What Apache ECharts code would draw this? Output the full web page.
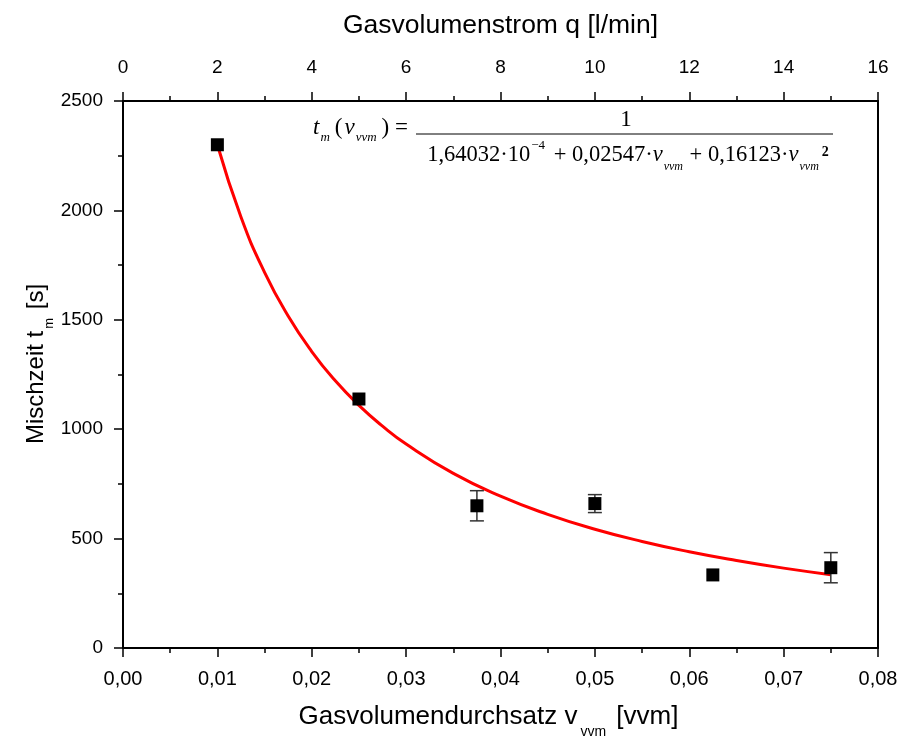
<!DOCTYPE html>
<html>
<head>
<meta charset="utf-8">
<script src="https://cdn.jsdelivr.net/npm/echarts@6/dist/echarts.min.js"></script>
<style>
  html, body { margin: 0; padding: 0; background: #fff; }
  #chart { width: 898px; height: 738px; }
</style>
</head>
<body>
<div id="chart"></div>
<script>
// Messpunkte (Mischzeit ueber Begasungsrate)
const vvmPoints = [0.01, 0.025, 0.0375, 0.05, 0.0625, 0.075];
const tmPoints = [2300, 1138, 650, 660, 334, 367];
const tmErrors = [0, 0, 69, 41, 0, 69];

// Ausgleichskurve
const fitVvm = [0.01, 0.0125, 0.015, 0.0175, 0.02, 0.0225, 0.025, 0.0275, 0.03, 0.035,
  0.04, 0.045, 0.05, 0.055, 0.06, 0.065, 0.07, 0.075];
const fitTm = [2300, 1970, 1717, 1517, 1355, 1221, 1109, 1014, 932, 798,
  694, 611, 543, 487, 440, 400, 365, 335];

// Achsenbeschriftung
const bottomTicks = ["0,00", "0,01", "0,02", "0,03", "0,04", "0,05", "0,06", "0,07", "0,08"];

const chart = echarts.init(document.getElementById("chart"));

const sans = "'Liberation Sans', Arial, Helvetica, sans-serif";
const serif = "'Liberation Serif', 'Times New Roman', serif";

const pointData = vvmPoints.map((v, i) => [v, tmPoints[i]]);
const errData = vvmPoints
  .map((v, i) => [v, tmPoints[i], tmErrors[i]])
  .filter((d) => d[2] > 0);
const fitData = fitVvm.map((v, i) => [v, fitTm[i]]);

// Fehlerbalken
function renderErrorBar(params, api) {
  const x = api.value(0);
  const y = api.value(1);
  const e = api.value(2);
  const top = api.coord([x, y + e]);
  const bot = api.coord([x, y - e]);
  const half = 7;
  const style = { stroke: "#333", lineWidth: 1.5 };
  return {
    type: "group",
    children: [
      { type: "line", shape: { x1: top[0], y1: top[1], x2: bot[0], y2: bot[1] }, style },
      { type: "line", shape: { x1: top[0] - half, y1: top[1], x2: top[0] + half, y2: top[1] }, style },
      { type: "line", shape: { x1: bot[0] - half, y1: bot[1], x2: bot[0] + half, y2: bot[1] }, style },
    ],
  };
}

const axisLine = { show: true, onZero: false, lineStyle: { color: "#000", width: 2 } };
const tick = { show: true, inside: false, length: 9, lineStyle: { color: "#000", width: 1.5 } };
const minor = { show: true, splitNumber: 2, length: 5, lineStyle: { color: "#000", width: 1.5 } };

const option = {
  backgroundColor: "#fff",
  animation: false,
  grid: { left: 123, right: 20, top: 101, bottom: 90, containLabel: false, outerBoundsMode: "none" },
  xAxis: [
    {
      type: "value",
      position: "bottom",
      min: 0,
      max: 0.08,
      interval: 0.01,
      axisLine: axisLine,
      axisTick: tick,
      minorTick: minor,
      splitLine: { show: false },
      axisLabel: {
        margin: 21,
        fontFamily: sans,
        fontSize: 20,
        color: "#000",
        formatter: (val) => bottomTicks[Math.round(val * 100)],
      },
      name: "{a|Gasvolumendurchsatz v}{s|vvm}{a| [vvm]}",
      nameLocation: "middle",
      nameGap: 50,
      nameTextStyle: {
        padding: [0, 24, 0, 0],
        rich: {
          a: { fontFamily: sans, fontSize: 26, color: "#000", lineHeight: 32, verticalAlign: "bottom" },
          s: { fontFamily: sans, fontSize: 14, color: "#000", lineHeight: 16, verticalAlign: "bottom", padding: [0, 3, -9, 3] },
        },
      },
    },
    {
      type: "value",
      position: "top",
      min: 0,
      max: 16,
      interval: 2,
      axisLine: axisLine,
      axisTick: tick,
      minorTick: minor,
      splitLine: { show: false },
      axisLabel: { margin: 24, fontFamily: sans, fontSize: 19, color: "#000" },
      name: "Gasvolumenstrom q [l/min]",
      nameLocation: "middle",
      nameGap: 62,
      nameTextStyle: { fontFamily: sans, fontSize: 26.5, color: "#000" },
    },
  ],
  yAxis: [
    {
      type: "value",
      min: 0,
      max: 2500,
      interval: 500,
      axisLine: axisLine,
      axisTick: tick,
      minorTick: minor,
      splitLine: { show: false },
      axisLabel: { margin: 20, fontFamily: sans, fontSize: 19, color: "#000", formatter: (val) => String(val) },
    },
    {
      type: "value",
      position: "right",
      min: 0,
      max: 2500,
      axisLine: axisLine,
      axisTick: { show: false },
      axisLabel: { show: false },
      splitLine: { show: false },
    },
  ],
  series: [
    {
      name: "Fit",
      type: "line",
      data: fitData,
      smooth: true,
      showSymbol: false,
      lineStyle: { color: "#f00", width: 3 },
      z: 2,
    },
    {
      name: "Fehler",
      type: "custom",
      data: errData,
      renderItem: renderErrorBar,
      z: 3,
    },
    {
      name: "Messung",
      type: "scatter",
      data: pointData,
      symbol: "rect",
      symbolSize: 13,
      itemStyle: { color: "#000", opacity: 1 },
      z: 4,
    },
  ],
  graphic: [
    // y-Achsentitel
    {
      type: "text",
      x: 33,
      y: 364,
      rotation: Math.PI / 2,
      style: {
        text: "{a|Mischzeit t}{s|m}{a| [s]}",
        align: "center",
        verticalAlign: "middle",
        rich: {
          a: { fontFamily: sans, fontSize: 24, fill: "#000", lineHeight: 30, verticalAlign: "bottom" },
          s: { fontFamily: sans, fontSize: 13, fill: "#000", lineHeight: 16, verticalAlign: "bottom", padding: [0, 2, -8, 2] },
        },
      },
    },
    // Formel
    {
      type: "text",
      left: 313,
      top: 116,
      style: {
        text: "{i|t}{s|m}{n|(}{i|v}{s|vvm}{n|) =}",
        rich: {
          i: { fontFamily: serif, fontStyle: "italic", fontSize: 23, fill: "#000", verticalAlign: "bottom", lineHeight: 28 },
          n: { fontFamily: serif, fontSize: 23, fill: "#000", verticalAlign: "bottom", lineHeight: 28, padding: [0, 2, 0, 3] },
          s: { fontFamily: serif, fontStyle: "italic", fontSize: 13, fill: "#000", verticalAlign: "bottom", lineHeight: 14, padding: [0, 2, -5, 1] },
        },
      },
    },
    {
      type: "line",
      shape: { x1: 416, y1: 134, x2: 833, y2: 134 },
      style: { stroke: "#000", lineWidth: 1 },
    },
    {
      type: "text",
      x: 626,
      y: 120,
      style: { text: "1", fontFamily: serif, fontSize: 23, fill: "#000", align: "center", verticalAlign: "middle" },
    },
    {
      type: "text",
      x: 628,
      y: 153,
      style: {
        text: "{n|1,64032·10}{p|−4}{n| + 0,02547·}{i|v}{s|vvm}{n| + 0,16123·}{i|v}{s|vvm}{b|2}",
        align: "center",
        verticalAlign: "middle",
        rich: {
          n: { fontFamily: serif, fontSize: 22.5, fill: "#000", verticalAlign: "bottom", lineHeight: 28 },
          i: { fontFamily: serif, fontStyle: "italic", fontSize: 22.5, fill: "#000", verticalAlign: "bottom", lineHeight: 28 },
          p: { fontFamily: serif, fontSize: 13, fill: "#000", verticalAlign: "top", lineHeight: 14, padding: [0, 3, 0, 1] },
          s: { fontFamily: serif, fontStyle: "italic", fontSize: 12, fill: "#000", verticalAlign: "bottom", lineHeight: 14, padding: [0, 1, -6, 1] },
          b: { fontFamily: serif, fontWeight: "bold", fontSize: 14, fill: "#000", verticalAlign: "bottom", lineHeight: 14, padding: [0, 0, 8, 2] },
        },
      },
    },
  ],
};

chart.setOption(option);
</script>
</body>
</html>
